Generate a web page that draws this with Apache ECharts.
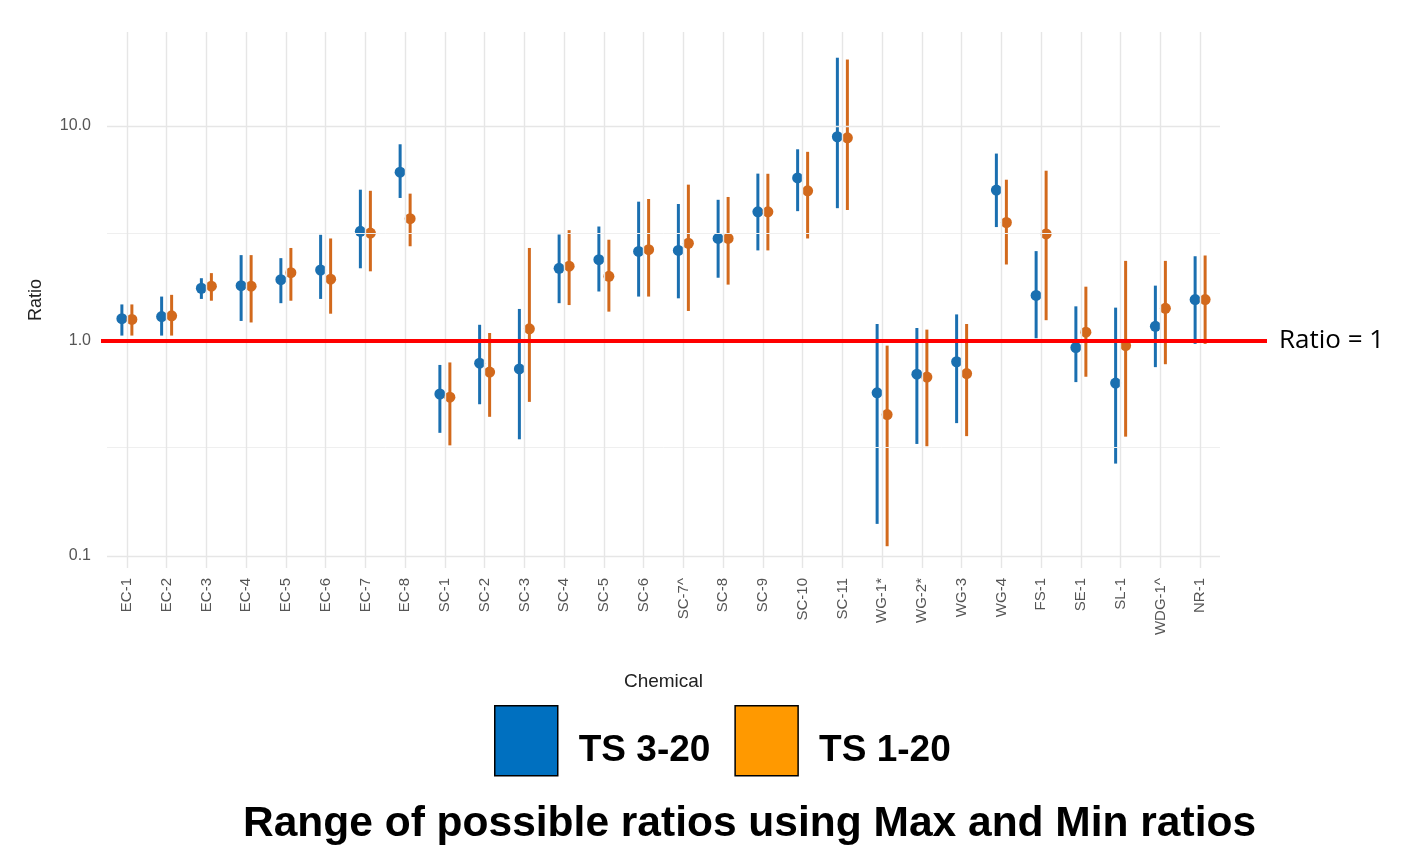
<!DOCTYPE html>
<html>
<head>
<meta charset="utf-8">
<script src="https://cdn.jsdelivr.net/npm/echarts@6/dist/echarts.min.js"></script>
<style>
  html, body { margin: 0; padding: 0; background: #ffffff; }
  #chart { width: 1421px; height: 846px; }
</style>
</head>
<body>
<div id="chart"></div>
<script>
// ---------- data ----------
const categories = ['EC-1','EC-2','EC-3','EC-4','EC-5','EC-6','EC-7','EC-8',
  'SC-1','SC-2','SC-3','SC-4','SC-5','SC-6','SC-7^','SC-8','SC-9','SC-10','SC-11',
  'WG-1*','WG-2*','WG-3','WG-4','FS-1','SE-1','SL-1','WDG-1^','NR-1'];

const ts320Ratio = [1.27,1.30,1.76,1.81,1.93,2.14,3.24,6.10,
  0.567,0.789,0.742,2.18,2.39,2.61,2.64,3.00,3.99,5.74,8.92,
  0.574,0.701,0.801,5.04,1.63,0.933,0.637,1.17,1.56];
const ts320Min = [1.06,1.06,1.57,1.24,1.50,1.57,2.18,4.63,
  0.374,0.508,0.349,1.50,1.70,1.61,1.58,1.97,2.64,4.02,4.15,
  0.141,0.332,0.415,3.39,1.03,0.644,0.269,0.756,0.97];
const ts320Max = [1.48,1.61,1.96,2.51,2.43,3.12,5.06,8.23,
  0.774,1.19,1.41,3.13,3.41,4.45,4.34,4.54,6.01,7.80,20.8,
  1.20,1.15,1.33,7.45,2.62,1.45,1.43,1.81,2.48];

const ts120Ratio = [1.26,1.31,1.80,1.80,2.08,1.94,3.18,3.71,
  0.548,0.717,1.14,2.23,2.00,2.66,2.85,3.00,3.99,5.00,8.82,
  0.455,0.680,0.706,3.56,3.15,1.10,0.952,1.42,1.56];
const ts120Min = [1.06,1.06,1.54,1.22,1.54,1.34,2.11,2.76,
  0.327,0.444,0.521,1.47,1.37,1.61,1.38,1.83,2.64,3.00,4.07,
  0.111,0.324,0.361,2.27,1.25,0.682,0.359,0.780,0.97];
const ts120Max = [1.48,1.64,2.07,2.51,2.71,3.00,5.00,4.85,
  0.795,1.09,2.71,3.28,2.96,4.58,5.34,4.68,6.00,7.59,20.4,
  0.952,1.13,1.20,5.63,6.20,1.79,2.36,2.36,2.50];

const yTickValues = [0.1, 1, 10];
const yTickLabels = ['0.1', '1.0', '10.0'];
const yMinorValues = [0.31623, 3.1623];
const referenceRatio = 1;
const seriesNames = ['TS 3-20', 'TS 1-20'];

// ---------- chart ----------
const Y_MIN = 0.0879, Y_MAX = 27.4;
const dotColors = ['#1a6fb0', '#d2691c'];
const legendColors = ['#0070C0', '#FF9900'];

function rows(pt, lo, hi) {
  return categories.map((c, i) => [i, pt[i], lo[i], hi[i]]);
}
function makeRender(dx, color) {
  return function (params, api) {
    const c = api.value(0);
    const p = api.coord([c, api.value(1)]);
    const lo = api.coord([c, api.value(2)]);
    const hi = api.coord([c, api.value(3)]);
    const x = p[0] + dx;
    return {
      type: 'group',
      children: [
        { type: 'line', shape: { x1: x, y1: lo[1], x2: x, y2: hi[1] },
          style: { stroke: color, lineWidth: 3 } },
        { type: 'circle', shape: { cx: x, cy: p[1], r: 5.5 },
          style: { fill: color } }
      ]
    };
  };
}

const chart = echarts.init(document.getElementById('chart'), null, { renderer: 'canvas' });
const option = {
  backgroundColor: '#ffffff',
  animation: false,
  title: {
    text: 'Range of possible ratios using Max and Min ratios',
    left: 238, top: 798,
    textStyle: { fontFamily: 'Liberation Sans', fontWeight: 'bold', fontSize: 42.5, color: '#000' }
  },
  legend: {
    left: 489, top: 700,
    icon: 'rect',
    itemWidth: 63, itemHeight: 70, itemGap: 24,
    formatter: function (name) { return '{t|' + name + '}'; },
    textStyle: {
      fontFamily: 'Liberation Sans', fontWeight: 'bold', fontSize: 37, color: '#000',
      rich: { t: { fontFamily: 'Liberation Sans', fontWeight: 'bold', fontSize: 37, color: '#000', padding: [20, 0, 0, 16] } }
    },
    data: seriesNames.map((n, i) => ({
      name: n,
      itemStyle: { color: legendColors[i], borderColor: '#000', borderWidth: 1.5 }
    }))
  },
  grid: [
    { left: 107, right: 201, top: 32, bottom: 278 },
    { left: 101, right: 154, top: 32, bottom: 278 }
  ],
  xAxis: [
    {
      type: 'category', gridIndex: 0, data: categories, boundaryGap: true,
      name: 'Chemical', nameLocation: 'middle', nameGap: 104,
      nameTextStyle: { fontFamily: 'Liberation Sans', fontSize: 19, color: '#222' },
      axisLine: { show: false }, axisTick: { show: false },
      splitLine: { show: false },
      axisLabel: { rotate: 90, margin: 10, fontFamily: 'Liberation Sans', fontSize: 15, color: '#555', interval: 0 }
    },
    { type: 'value', gridIndex: 1, min: 0, max: 1, show: false }
  ],
  yAxis: [
    {
      type: 'log', gridIndex: 0, logBase: 10, min: Y_MIN, max: Y_MAX,
      name: 'Ratio', nameLocation: 'middle', nameGap: 62, nameRotate: 90,
      nameTextStyle: { fontFamily: 'Liberation Sans', fontSize: 18, color: '#222' },
      axisLine: { show: false }, axisTick: { show: false },
      splitLine: { show: false }, minorSplitLine: { show: false },
      axisLabel: {
        customValues: yTickValues,
        margin: 16, fontFamily: 'Liberation Sans', fontSize: 16, color: '#555',
        formatter: function (v) {
          for (let i = 0; i < yTickValues.length; i++) {
            if (Math.abs(Math.log10(v) - Math.log10(yTickValues[i])) < 1e-6) return yTickLabels[i];
          }
          return '';
        }
      }
    },
    { type: 'log', gridIndex: 1, logBase: 10, min: Y_MIN, max: Y_MAX, show: false }
  ],
  series: [
    {
      name: 'grid-h', type: 'line', xAxisIndex: 0, yAxisIndex: 0, data: [], z: 0, silent: true,
      markLine: {
        silent: true, symbol: 'none', animation: false, label: { show: false },
        data: yTickValues.map(v => ({ yAxis: v, lineStyle: { color: '#e6e6e6', width: 1.4, type: 'solid' } }))
          .concat(yMinorValues.map(v => ({ yAxis: v, lineStyle: { color: '#efefef', width: 1, type: 'solid' } })))
      }
    },
    {
      name: 'grid-v', type: 'line', xAxisIndex: 0, yAxisIndex: 0, data: [], z: 0, silent: true,
      markLine: {
        silent: true, symbol: 'none', animation: false, label: { show: false },
        lineStyle: { color: '#e6e6e6', width: 1.4, type: 'solid' },
        data: categories.map(c => ({ xAxis: c }))
      }
    },
    {
      name: seriesNames[0], type: 'custom', xAxisIndex: 0, yAxisIndex: 0, z: 3,
      itemStyle: { color: legendColors[0] },
      encode: { x: 0, y: 1 },
      renderItem: makeRender(-5, dotColors[0]),
      data: rows(ts320Ratio, ts320Min, ts320Max)
    },
    {
      name: seriesNames[1], type: 'custom', xAxisIndex: 0, yAxisIndex: 0, z: 3,
      itemStyle: { color: legendColors[1] },
      encode: { x: 0, y: 1 },
      renderItem: makeRender(5, dotColors[1]),
      data: rows(ts120Ratio, ts120Min, ts120Max)
    },
    {
      name: 'ref', type: 'line', xAxisIndex: 1, yAxisIndex: 1, data: [], z: 10, silent: true,
      markLine: {
        silent: true, symbol: 'none', animation: false,
        lineStyle: { color: '#ff0000', width: 4, type: 'solid' },
        label: {
          show: true, position: 'end', distance: 12, formatter: 'Ratio = 1',
          fontFamily: 'Open Sans', fontSize: 26, color: '#000'
        },
        data: [{ yAxis: referenceRatio }]
      }
    }
  ]
};
chart.setOption(option);
</script>
</body>
</html>
